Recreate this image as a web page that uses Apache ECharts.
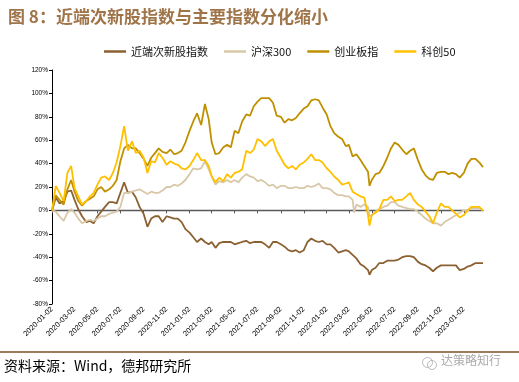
<!DOCTYPE html>
<html>
<head>
<meta charset="utf-8">
<script src="https://cdn.jsdelivr.net/npm/echarts@6/dist/echarts.min.js"></script>
<style>
html,body{margin:0;padding:0;background:#fff;}
#c{width:519px;height:382px;}
</style>
</head>
<body>
<div id="c"></div>
<script>
const titleText = '图 8：近端次新股指数与主要指数分化缩小';
const sourceText = '资料来源：Wind，德邦研究所';
const watermarkText = '达策略知行';
const seriesNames = ['近端次新股指数', '沪深300', '创业板指', '科创50'];
const seriesColors = ['#8B6132', '#D8C8A8', '#BF9000', '#FFC000'];
const axisStart = '2020-01-02';
const axisEnd = '2023-02-22';
const tickLabels = ['2020-01-02','2020-03-02','2020-05-02','2020-07-02','2020-09-02','2020-11-02',
  '2021-01-02','2021-03-02','2021-05-02','2021-07-02','2021-09-02','2021-11-02',
  '2022-01-02','2022-03-02','2022-05-02','2022-07-02','2022-09-02','2022-11-02','2023-01-02'];
const yTicks = [-80, -60, -40, -20, 0, 20, 40, 60, 80, 100, 120];

const sampleDates = [
'2020-01-02','2020-01-12','2020-01-22','2020-02-02','2020-02-12','2020-02-22','2020-03-02','2020-03-12','2020-03-22',
'2020-04-02','2020-04-12','2020-04-22','2020-05-02','2020-05-12','2020-05-22','2020-06-02','2020-06-12','2020-06-22',
'2020-07-02','2020-07-12','2020-07-22','2020-08-02','2020-08-12','2020-08-22','2020-09-02','2020-09-12','2020-09-22',
'2020-10-02','2020-10-12','2020-10-22','2020-11-02','2020-11-12','2020-11-22','2020-12-02','2020-12-12','2020-12-22',
'2021-01-02','2021-01-12','2021-01-22','2021-02-02','2021-02-12','2021-02-22','2021-03-02','2021-03-12','2021-03-22',
'2021-04-02','2021-04-12','2021-04-22','2021-05-02','2021-05-12','2021-05-22','2021-06-02','2021-06-12','2021-06-22',
'2021-07-02','2021-07-12','2021-07-22','2021-08-02','2021-08-12','2021-08-22','2021-09-02','2021-09-12','2021-09-22',
'2021-10-02','2021-10-12','2021-10-22','2021-11-02','2021-11-12','2021-11-22','2021-12-02','2021-12-12','2021-12-22',
'2022-01-02','2022-01-12','2022-01-22','2022-02-02','2022-02-12','2022-02-22','2022-03-02','2022-03-12','2022-03-16','2022-03-22',
'2022-04-02','2022-04-12','2022-04-22','2022-04-26','2022-05-02','2022-05-12','2022-05-22','2022-06-02','2022-06-12','2022-06-22',
'2022-07-02','2022-07-12','2022-07-22','2022-08-02','2022-08-12','2022-08-22','2022-09-02','2022-09-12','2022-09-22',
'2022-10-02','2022-10-12','2022-10-22','2022-11-02','2022-11-12','2022-11-22','2022-12-02','2022-12-12','2022-12-22',
'2023-01-02','2023-01-12','2023-01-22','2023-02-02','2023-02-12','2023-02-22'
];

// 近端次新股指数 (%)
const newStockValues = [
0,11,6, 8,16,17, 9,1,-5, -10,-9,-11, -5,-1,3, 7,7,6, 15,24,15, 16,11,3, -3,-14,-7, -5,-5,-10, -5,-6,-7, -7,-10,-16,
-19,-23,-27, -24,-27,-29, -27,-32,-28, -27,-27,-27, -29,-28,-27, -26,-28,-27, -27,-27,-29, -32,-27,-27, -29,-31,-34, -35,-34,-36, -34,-27,-24, -26,-27,-26,
-29,-29,-32, -36,-35,-34, -35,-38,-39,-41, -46,-48,-51,-55, -51,-49,-45, -45,-43,-43, -43,-42,-40, -39,-39,-40, -44,-46,-47, -49,-52,-49, -47,-47,-47, -47,-47,-51,
-50,-48,-47, -45,-45,-45
];
// 沪深300 (%)
const hs300Values = [
0,-1,-5, -9,-2,1, -2,-7,-11, -9,-8,-9, -7,-5,-5, -3,-2,-1, 3,15,15, 16,17,18, 16,14,16, 15,15,17, 20,20,22, 21,23,26,
31,36,35, 36,42,35, 29,22,25, 24,26,24, 26,24,28, 31,29,28, 25,26,24, 21,22,19, 21,21,19, 19,20,19, 19,21,20, 21,23,19,
19,18,15, 13,13,12, 12,9,-2,5, 3,5,3,-5, -4,-1,1, 3,4,7, 7,4,3, 2,1,1, -1,-4,-7, -9,-11,-11, -13,-10,-8, -6,-4,-2,
0,0,2, 2,2,0
];
// 创业板指 (%)
const chinextValues = [
0,13,9, 5,18,26, 16,8,4, 8,10,12, 18,20,16, 18,21,26, 42,53,56, 53,53,49, 44,38,45, 49,53,50, 49,52,48, 49,51,58,
68,76,83, 73,91,78, 58,48,49, 54,56,54, 68,66,76, 82,81,89, 93,96,96, 96,92,81, 80,75,78, 77,79,83, 87,89,94, 95,94,88,
82,72,66, 63,61,55, 56,46,45,48, 43,38,33,21, 26,31,32, 38,45,53, 58,56,52, 48,51,53, 43,35,30, 27,26,32, 33,33,31, 32,31,28,
32,40,44, 44,41,37
];
// 科创50 (%)
const star50Values = [
0,21,15, 8,32,38, 19,12,5, 8,12,15, 22,28,29, 26,32,41, 55,72,51, 59,49,51, 45,32,42, 41,49,45, 39,42,40, 39,36,35,
38,43,49, 43,43,38, 29,24,28, 25,31,28, 32,33,35, 51,49,52, 61,59,55, 59,61,51, 45,39,36, 38,35,39, 41,44,48, 43,43,41,
36,33,29, 26,22,23, 24,16,15,14, 12,11,-4,-13, -4,-2,1, 9,9,12, 8,9,9, 12,15,9, 5,3,-1, -5,-11,-2, 6,3,3, 0,-3,-6,
-4,0,3, 3,3,0
];

const DAY = 86400000;
const t0 = Date.parse(axisStart + 'T00:00:00Z');
const t1 = Date.parse(axisEnd + 'T00:00:00Z');
const categories = [];
for (let t = t0; t <= t1; t += DAY) {
  categories.push(new Date(t).toISOString().slice(0, 10));
}
const idxOf = d => Math.round((Date.parse(d + 'T00:00:00Z') - t0) / DAY);
const toPairs = vals => sampleDates.map((d, i) => [idxOf(d), vals[i]]);
const allValues = [newStockValues, hs300Values, chinextValues, star50Values];
const tickSet = new Set(tickLabels);
const isTick = (i, v) => tickSet.has(v);

const chart = echarts.init(document.getElementById('c'), null, {renderer: 'canvas'});
const option = {
  animation: false,
  backgroundColor: '#fff',
  title: {
    text: titleText, left: 3, top: 3,
    textStyle: {color: '#9F7449', fontSize: 17, fontWeight: 'bold', fontFamily: 'Noto Sans CJK SC'}
  },
  legend: {
    data: seriesNames, left: 99, top: 41, itemWidth: 22, itemHeight: 2.5, itemGap: 16, icon: 'rect',
    textStyle: {color: '#111', fontSize: 11, fontFamily: 'Noto Sans CJK SC, Liberation Sans'}
  },
  grid: {left: 52, right: 36, top: 70, bottom: 78, containLabel: false},
  xAxis: [{
    type: 'category', data: categories, boundaryGap: false, position: 'bottom',
    axisLine: {show: false, onZero: false}, axisTick: {show: false},
    axisLabel: {interval: isTick, rotate: 45, fontSize: 7.5, color: '#000', margin: 4, fontFamily: 'Liberation Sans'},
    splitLine: {show: false}
  }, {
    type: 'category', data: categories, boundaryGap: false, position: 'bottom',
    axisLine: {show: true, onZero: true, lineStyle: {color: '#595959', width: 1.3}},
    axisTick: {show: true, interval: isTick, length: 3, lineStyle: {color: '#595959'}},
    axisLabel: {show: false}, splitLine: {show: false}
  }],
  yAxis: {
    type: 'value', min: -80, max: 120, interval: 20,
    axisLine: {show: true, lineStyle: {color: '#000', width: 1}},
    axisTick: {show: true, length: 3, lineStyle: {color: '#000'}},
    axisLabel: {formatter: '{value}%', fontSize: 6.5, color: '#000', margin: 4, fontFamily: 'Liberation Sans'},
    splitLine: {show: false}
  },
  series: seriesNames.map((name, k) => ({
    name, type: 'line', xAxisIndex: 0, data: toPairs(allValues[k]),
    showSymbol: false, symbol: 'none', smooth: false,
    lineStyle: {color: seriesColors[k], width: 1.8}, itemStyle: {color: seriesColors[k]}
  })),
  graphic: [
    {type: 'rect', left: 0, top: 351, shape: {width: 519, height: 2}, style: {fill: '#9E7B5B'}},
    {type: 'text', left: 4, top: 359, style: {text: sourceText, fill: '#000', font: '14px "Noto Sans CJK SC", "Liberation Sans"'}},
    {type: 'circle', left: 420, top: 355, shape: {r: 5}, style: {fill: 'none', stroke: '#bbb', lineWidth: 1}},
    {type: 'circle', left: 425, top: 358, shape: {r: 4.5}, style: {fill: 'none', stroke: '#bbb', lineWidth: 1}},
    {type: 'text', left: 441, top: 354, style: {text: watermarkText, fill: '#aaa', font: '12px "Noto Sans CJK SC"'}}
  ]
};
chart.setOption(option);
</script>
</body>
</html>
